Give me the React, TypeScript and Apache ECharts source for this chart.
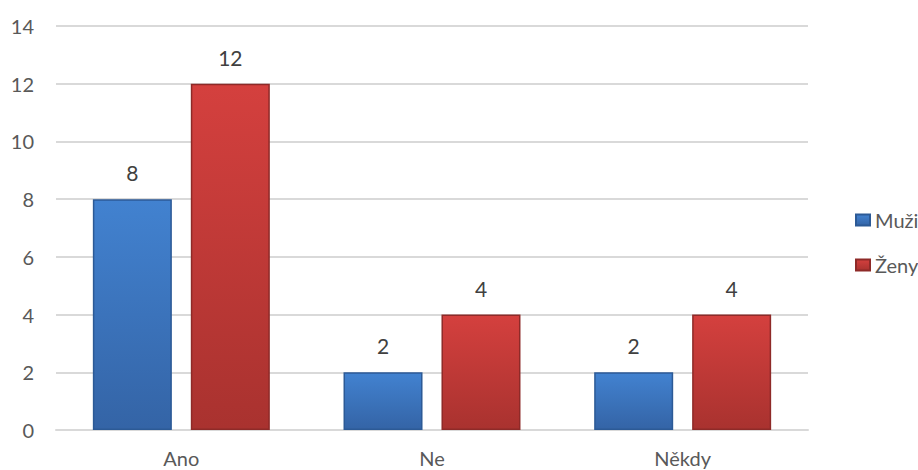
import React, { useEffect, useRef } from "react";
import * as echarts from "echarts";

const categories = ["Ano", "Ne", "Někdy"];
const seriesNames = ["Muži", "Ženy"];
const muzi = [8, 2, 2];
const zeny = [12, 4, 4];
const yTicks = { min: 0, max: 14, interval: 2 };

const font = "Lato, 'Open Sans', sans-serif";

// Bevel-like fill: slightly lighter near the top, darker at the base.
function barFill(top: string, bottom: string) {
  return new echarts.graphic.LinearGradient(0, 0, 0, 1, [
    { offset: 0, color: top },
    { offset: 1, color: bottom },
  ]);
}

export default function App() {
  const ref = useRef<HTMLDivElement>(null);

  useEffect(() => {
    if (!ref.current) return;
    const chart = echarts.init(ref.current, null, { renderer: "svg" });
    const label = {
      show: true,
      position: "top" as const,
      distance: 16,
      color: "#404040",
      fontSize: 21,
      fontFamily: font,
    };
    chart.setOption({
      animation: false,
      grid: { left: 56, right: 110, top: 26, bottom: 40 },
      legend: {
        orient: "vertical",
        left: 850,
        top: 205,
        itemWidth: 14,
        itemHeight: 11,
        itemGap: 25,
        icon: "rect",
        textStyle: { color: "#595959", fontSize: 20, fontFamily: font },
        data: seriesNames,
      },
      xAxis: {
        type: "category",
        data: categories,
        axisLine: { lineStyle: { color: "#d9d9d9", width: 2 } },
        axisTick: { show: false },
        axisLabel: { color: "#595959", fontSize: 20, fontFamily: font, margin: 18 },
      },
      yAxis: {
        type: "value",
        min: yTicks.min,
        max: yTicks.max,
        interval: yTicks.interval,
        axisLine: { show: false },
        axisTick: { show: false },
        splitLine: { lineStyle: { color: "#d9d9d9", width: 2 } },
        axisLabel: { color: "#595959", fontSize: 20, fontFamily: font, margin: 22 },
      },
      series: [
        {
          name: seriesNames[0],
          type: "bar",
          data: muzi,
          barGap: "24%",
          barCategoryGap: "29.4%",
          label,
          itemStyle: {
            color: barFill("#4282d0", "#3464a6"),
            borderColor: "#2c5a96",
            borderWidth: 1.5,
          },
        },
        {
          name: seriesNames[1],
          type: "bar",
          data: zeny,
          label,
          itemStyle: {
            color: barFill("#d4403e", "#a9322f"),
            borderColor: "#8e2a28",
            borderWidth: 1.5,
          },
        },
      ],
    });
    return () => chart.dispose();
  }, []);

  return (
    <div
      ref={ref}
      style={{ position: "absolute", left: 0, top: 0, width: 918, height: 470 }}
    />
  );
}
